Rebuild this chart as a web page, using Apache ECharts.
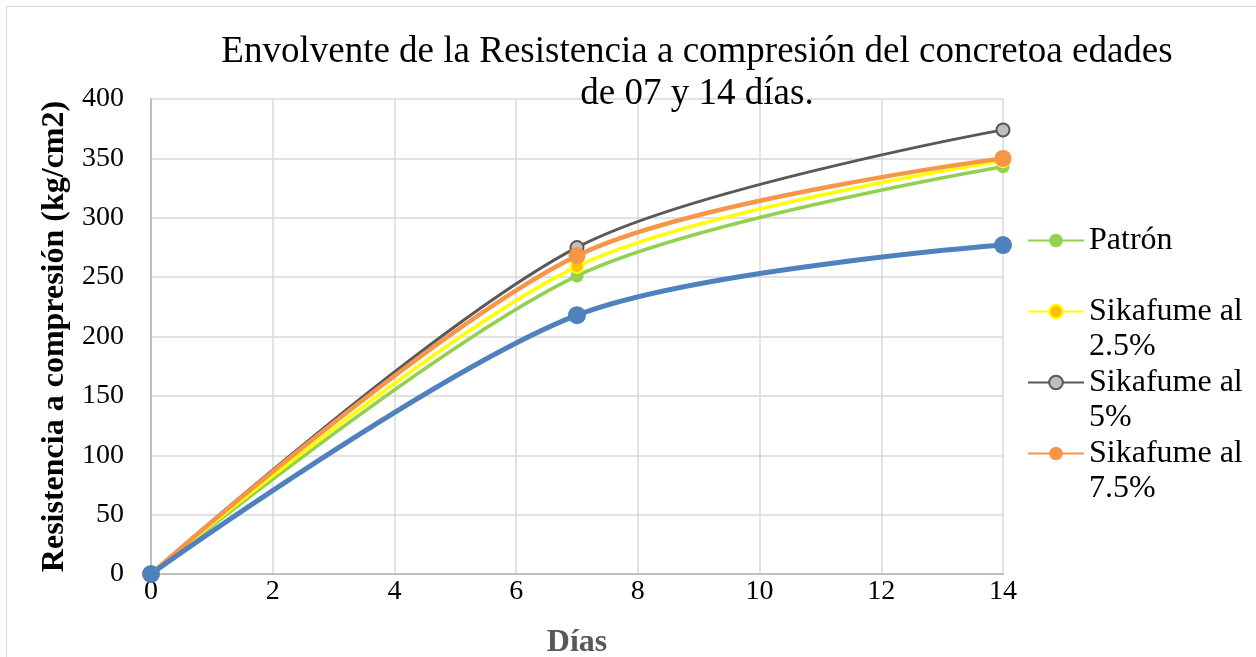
<!DOCTYPE html>
<html><head><meta charset="utf-8">
<script src="https://cdn.jsdelivr.net/npm/echarts@6/dist/echarts.min.js"></script>
<style>
html,body{margin:0;padding:0;background:#fff;}
#frame{position:absolute;left:6px;top:6px;width:1260px;height:660px;border:1.5px solid #d9d9d9;box-sizing:border-box;}
#c{position:absolute;left:0;top:0;width:1256px;height:657px;}
</style></head>
<body>
<div id="frame"></div>
<div id="c"></div>
<script>
const days = [0, 7, 14];
const patron = [0, 251, 343];
const sika25 = [0, 259, 348];
const sika5 = [0, 275, 374];
const sika75 = [0, 268, 350];
const serieAzul = [0, 218, 277];
const seriesNames = ['Patrón', 'Sikafume al 2.5%', 'Sikafume al 5%', 'Sikafume al 7.5%', 'Serie 5'];
const legendLabels = {
  'Patrón': '\nPatrón\n ',
  'Sikafume al 2.5%': '\nSikafume al\n2.5%',
  'Sikafume al 5%': '\nSikafume al\n5%',
  'Sikafume al 7.5%': '\nSikafume al\n7.5%'
};
const pairs = arr => days.map((d, i) => [d, arr[i]]);
const font = '"Liberation Serif","Times New Roman",serif';

const mk = (name, arr, lineColor, width, symSize, fill, border, bw) => ({
  name: name, type: 'line', smooth: 0.3, data: pairs(arr),
  symbol: 'circle', symbolSize: symSize, showSymbol: true,
  lineStyle: {color: lineColor, width: width},
  itemStyle: {color: fill, borderColor: border, borderWidth: bw},
  emphasis: {disabled: true}, z: 2
});

const chart = echarts.init(document.getElementById('c'));
chart.setOption({
  animation: false,
  title: {
    text: 'Envolvente de la Resistencia a compresión del concretoa edades\nde 07 y 14 días.',
    left: 692, top: 26, textAlign: 'center',
    textStyle: {fontFamily: font, fontSize: 37, fontWeight: 'normal', color: '#000', lineHeight: 42}
  },
  grid: {left: 151, top: 99, width: 852, height: 475, containLabel: false, outerBoundsMode: 'none'},
  legend: {
    orient: 'vertical', left: 1022, top: 183,
    itemWidth: 56, itemHeight: 17, itemGap: -34,
    data: seriesNames.slice(0, 4),
    formatter: n => legendLabels[n],
    textStyle: {fontFamily: font, fontSize: 32, color: '#000', lineHeight: 35}
  },
  xAxis: {
    type: 'value', min: 0, max: 14, interval: 2,
    name: 'Días', nameLocation: 'middle', nameGap: 53,
    nameTextStyle: {fontFamily: font, fontSize: 32, fontWeight: 'bold', color: '#595959'},
    axisLine: {show: true, lineStyle: {color: '#bfbfbf', width: 2}},
    axisTick: {show: false},
    axisLabel: {fontFamily: font, fontSize: 28, color: '#000', margin: 4},
    splitLine: {show: true, lineStyle: {color: '#d9d9d9', width: 1.5}}
  },
  yAxis: {
    type: 'value', min: 0, max: 400, interval: 50,
    name: 'Resistencia a compresión (kg/cm2)', nameLocation: 'middle', nameGap: 69,
    nameTextStyle: {fontFamily: font, fontSize: 32, fontWeight: 'bold', color: '#000'},
    axisLine: {show: true, lineStyle: {color: '#bfbfbf', width: 2}},
    axisTick: {show: false},
    axisLabel: {fontFamily: font, fontSize: 28, color: '#000', margin: 27},
    splitLine: {show: true, lineStyle: {color: '#d9d9d9', width: 1.5}}
  },
  series: [
    mk(seriesNames[0], patron, '#92d050', 3.5, 13, '#92d050', '#92d050', 0),
    mk(seriesNames[1], sika25, '#ffff00', 3.5, 13, '#ffc000', '#ffff00', 2),
    mk(seriesNames[2], sika5, '#595959', 3, 13, '#bfbfbf', '#595959', 2),
    mk(seriesNames[3], sika75, '#f79646', 4.5, 17, '#f79646', '#f79646', 0),
    mk(seriesNames[4], serieAzul, '#4f81bd', 5, 18, '#4f81bd', '#4f81bd', 0)
  ]
});
</script>
</body></html>
